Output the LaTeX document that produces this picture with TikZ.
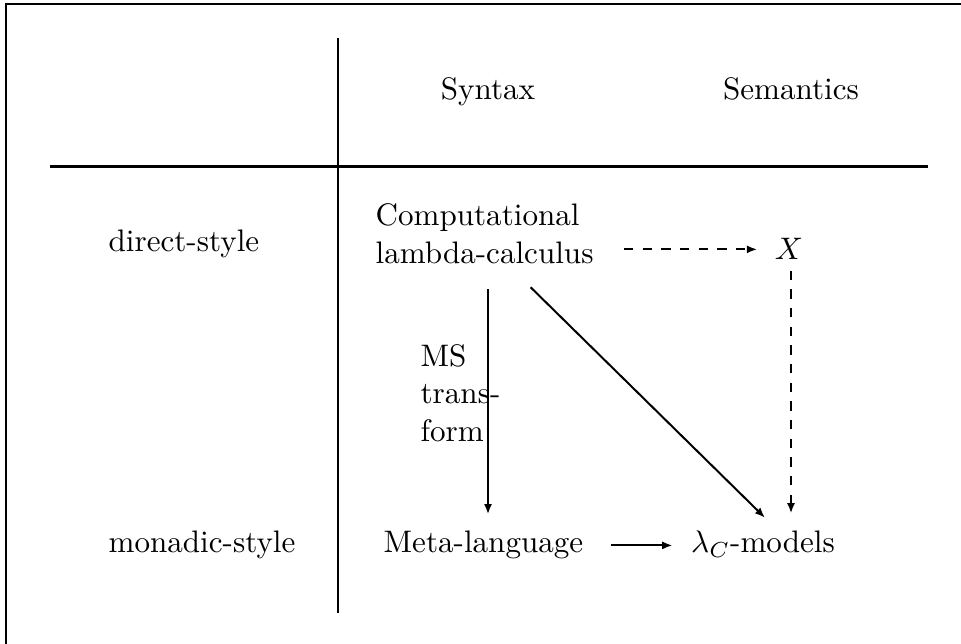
\documentclass[tikz,border=0pt]{standalone}
\usepackage{amsmath}
\usepackage{amssymb}
\usetikzlibrary{arrows.meta}

\begin{document}
\begin{tikzpicture}[x=0.3215pt,y=-0.3215pt,
  lbl/.style={inner sep=0pt, anchor=base},
  cell/.style={inner sep=0pt, align=left, anchor=north west},
  arr/.style={-{Latex[length=3.3pt,width=2.6pt]}, line width=0.64pt},
  darr/.style={arr, dashed},
  rule/.style={line width=0.85pt}]

\useasboundingbox (0,0) rectangle (961,644);

% Frame
\draw[line width=0.64pt] (6,644) -- (6,4.3) -- (961,4.3);

% Table rules
\draw[rule] (338,38) -- (338,613);
\draw[rule] (50,166.7) -- (928,166.7);

% Headers
\node[lbl] (syn) at (488,100) {Syntax};
\node[lbl] (sem) at (791,100) {Semantics};

% Row labels
\node[lbl, anchor=base west] (dir) at (108,252) {direct-style};
\node[lbl, anchor=base west] (mon) at (108,553) {monadic-style};

% Entries
\node[cell] (comp) at (375,203.4) {Computational\\lambda-calculus};
\node[lbl] (x) at (789,260) {$X$};
\node[lbl] (meta) at (483.5,553) {Meta-language};
\node[lbl] (lam) at (763,553) {$\lambda_C$-models};

\node[cell] (ms) at (420,344) {MS\\trans-\\form};

% Arrows
\draw[darr, shorten <=9.6pt, shorten >=5.5pt] (comp.east |- x.center) -- (x.west);
\draw[arr, shorten <=8pt, shorten >=5.3pt] (comp.south -| syn) -- (meta.north -| syn);
\draw[arr] ([shift={(46,23)}]comp.south) -- ([shift={(2,-13)}]lam.north);
\draw[darr, shorten <=3.2pt, shorten >=5.6pt] (x.south -| sem) -- (lam.north -| sem);
\draw[arr, shorten <=8.7pt, shorten >=5.8pt] (meta.east) -- (meta.east -| lam.west);

\end{tikzpicture}
\end{document}
